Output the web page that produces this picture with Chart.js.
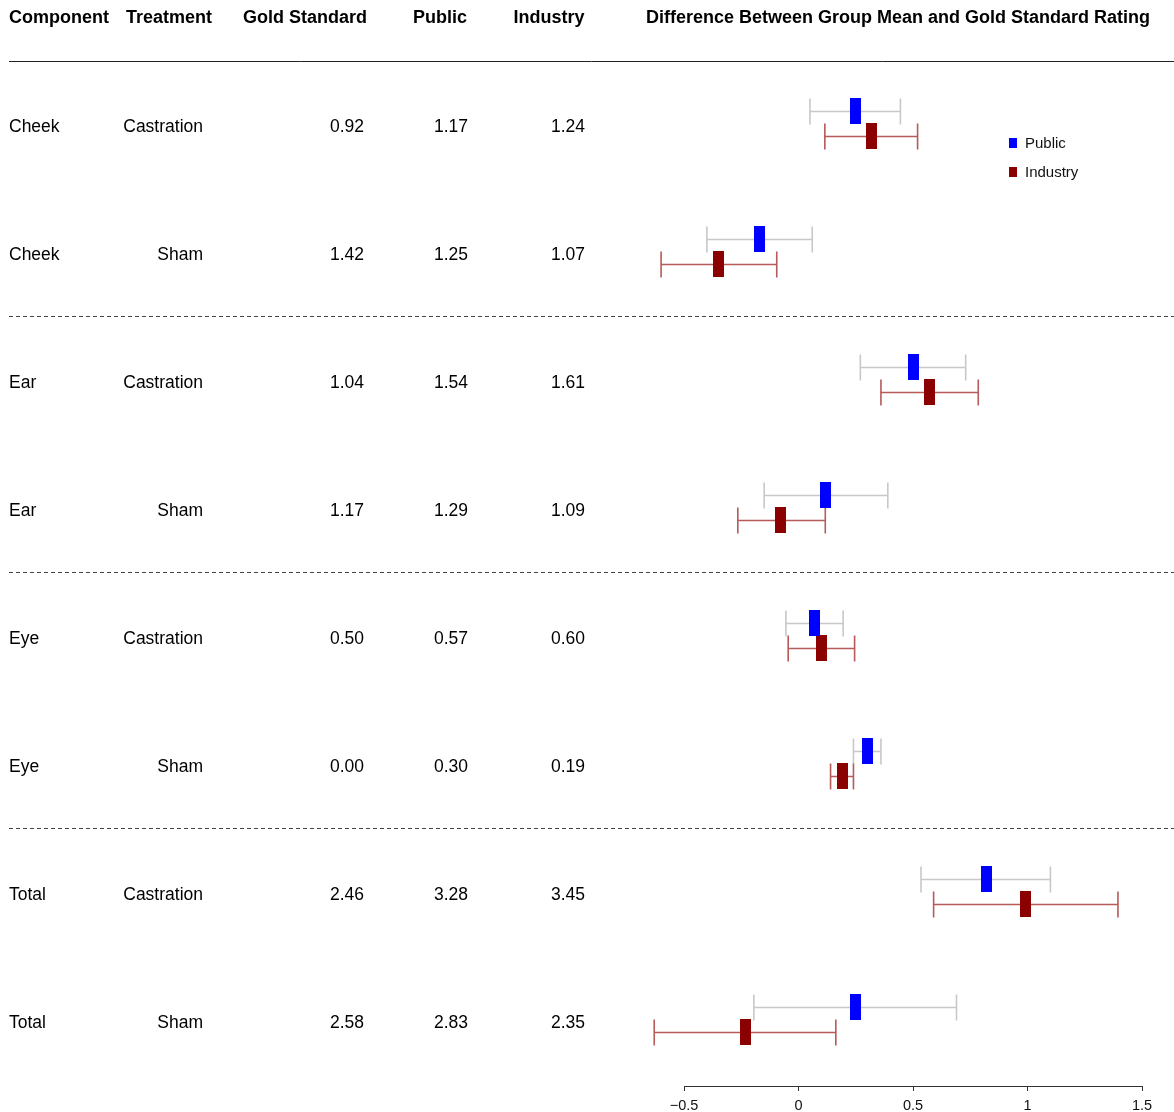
<!DOCTYPE html>
<html>
<head>
<meta charset="utf-8">
<title>Difference Between Group Mean and Gold Standard Rating</title>
<script src="https://cdn.jsdelivr.net/npm/chart.js@4.4.1/dist/chart.umd.min.js"></script>
<style>
  html, body { margin: 0; padding: 0; background: #ffffff; }
  #wrap { width: 1174px; height: 1112px; position: relative; }
</style>
</head>
<body>
<div id="wrap"><canvas id="forest" width="1174" height="1112"></canvas></div>
<script>
// ---- table content ----
const components   = ['Cheek', 'Cheek', 'Ear', 'Ear', 'Eye', 'Eye', 'Total', 'Total'];
const treatments   = ['Castration', 'Sham', 'Castration', 'Sham', 'Castration', 'Sham', 'Castration', 'Sham'];
const goldStandard = [0.92, 1.42, 1.04, 1.17, 0.50, 0.00, 2.46, 2.58];
const publicMean   = [1.17, 1.25, 1.54, 1.29, 0.57, 0.30, 3.28, 2.83];
const industryMean = [1.24, 1.07, 1.61, 1.09, 0.60, 0.19, 3.45, 2.35];

// ---- interval bounds for the difference (group mean - gold standard) ----
const publicLow    = [0.050, -0.400, 0.270, -0.150, -0.055, 0.240, 0.535, -0.195];
const publicHigh   = [0.445,  0.060, 0.730,  0.390,  0.195, 0.360, 1.100,  0.690];
const industryLow  = [0.115, -0.600, 0.360, -0.265, -0.045, 0.140, 0.590, -0.630];
const industryHigh = [0.520, -0.095, 0.785,  0.117,  0.245, 0.240, 1.395,  0.163];

// ---- axis ----
const xTicks = [-0.5, 0, 0.5, 1, 1.5];
const headers = ['Component', 'Treatment', 'Gold Standard', 'Public', 'Industry'];
const plotTitle = 'Difference Between Group Mean and Gold Standard Rating';
const seriesNames = ['Public', 'Industry'];

const publicDiff   = publicMean.map((v, i) => +(v - goldStandard[i]).toFixed(2));
const industryDiff = industryMean.map((v, i) => +(v - goldStandard[i]).toFixed(2));

const FONT = '"Liberation Sans", Arial, Helvetica, sans-serif';
const PUBLIC_COL = '#0000ff';
const INDUSTRY_COL = '#8b0000';
const PUBLIC_WHISKER = '#c8c8c8';
const INDUSTRY_WHISKER = '#b65a5a';
const PUBLIC_OFF = -0.121;   // row fraction above the row centre
const INDUSTRY_OFF = 0.082;  // row fraction below the row centre

function boxImage(color) {
  const c = document.createElement('canvas');
  c.width = 11; c.height = 26;
  const g = c.getContext('2d');
  g.fillStyle = color;
  g.fillRect(0, 0, 11, 26);
  return c;
}

// table columns and decorations drawn around the plot area
const tablePlugin = {
  id: 'tablePlugin',
  beforeDatasetsDraw(chart) {
    const ctx = chart.ctx;
    const xs = chart.scales.x, ys = chart.scales.y;
    ctx.save();
    // whiskers
    const drawWhisker = (lo, hi, yv, color) => {
      const y = Math.round(ys.getPixelForValue(yv)) + 0.5;
      const x0 = xs.getPixelForValue(lo), x1 = xs.getPixelForValue(hi);
      ctx.strokeStyle = color;
      ctx.lineWidth = 1.6;
      ctx.beginPath();
      ctx.moveTo(x0, y); ctx.lineTo(x1, y);
      ctx.moveTo(x0, y - 13); ctx.lineTo(x0, y + 13);
      ctx.moveTo(x1, y - 13); ctx.lineTo(x1, y + 13);
      ctx.stroke();
    };
    for (let i = 0; i < components.length; i++) {
      drawWhisker(publicLow[i], publicHigh[i], i + PUBLIC_OFF, PUBLIC_WHISKER);
      drawWhisker(industryLow[i], industryHigh[i], i + INDUSTRY_OFF, INDUSTRY_WHISKER);
    }
    ctx.restore();
  },
  afterDraw(chart) {
    const ctx = chart.ctx;
    const ys = chart.scales.y;
    const W = chart.width;
    ctx.save();
    // header row
    ctx.fillStyle = '#000';
    ctx.textBaseline = 'middle';
    ctx.font = 'bold 18px ' + FONT;
    const hy = 18;
    ctx.textAlign = 'left';   ctx.fillText(headers[0], 9, hy);
    ctx.textAlign = 'center'; ctx.fillText(headers[1], 169, hy);
    ctx.fillText(headers[2], 305, hy);
    ctx.fillText(headers[3], 440, hy);
    ctx.fillText(headers[4], 549, hy);
    ctx.fillText(plotTitle, 898, hy);

    // rule under the header
    ctx.strokeStyle = '#222';
    ctx.lineWidth = 1;
    const topY = Math.round(ys.getPixelForValue(-0.5)) - 0.5;
    ctx.beginPath(); ctx.moveTo(9, topY); ctx.lineTo(W, topY); ctx.stroke();

    // dashed separators between components
    ctx.setLineDash([4, 3]);
    ctx.strokeStyle = '#444';
    [1.5, 3.5, 5.5].forEach(v => {
      const y = Math.round(ys.getPixelForValue(v)) - 1.5;
      ctx.beginPath(); ctx.moveTo(9, y); ctx.lineTo(W, y); ctx.stroke();
    });
    ctx.setLineDash([]);

    // table body
    ctx.font = '17.5px ' + FONT;
    ctx.fillStyle = '#000';
    for (let i = 0; i < components.length; i++) {
      const y = ys.getPixelForValue(i) + 1.5;
      ctx.textAlign = 'left';  ctx.fillText(components[i], 9, y);
      ctx.textAlign = 'right'; ctx.fillText(treatments[i], 203, y);
      ctx.fillText(goldStandard[i].toFixed(2), 364, y);
      ctx.fillText(publicMean[i].toFixed(2), 468, y);
      ctx.fillText(industryMean[i].toFixed(2), 585, y);
    }

    // legend
    ctx.font = '15px ' + FONT;
    ctx.textAlign = 'left';
    [[PUBLIC_COL, 143], [INDUSTRY_COL, 172]].forEach((it, k) => {
      ctx.fillStyle = it[0];
      ctx.fillRect(1009, it[1] - 5, 8, 10);
      ctx.fillStyle = '#111';
      ctx.fillText(seriesNames[k], 1025, it[1] + 1);
    });
    ctx.restore();
  }
};

new Chart(document.getElementById('forest'), {
  type: 'scatter',
  data: {
    datasets: [
      {
        label: seriesNames[0],
        data: publicDiff.map((v, i) => ({ x: v, y: i + PUBLIC_OFF })),
        pointStyle: boxImage(PUBLIC_COL),
        pointRadius: 6
      },
      {
        label: seriesNames[1],
        data: industryDiff.map((v, i) => ({ x: v, y: i + INDUSTRY_OFF })),
        pointStyle: boxImage(INDUSTRY_COL),
        pointRadius: 6
      }
    ]
  },
  options: {
    responsive: false,
    animation: false,
    devicePixelRatio: 1,
    events: [],
    layout: { padding: { left: 684, right: 32, top: 62, bottom: 0 } },
    plugins: { legend: { display: false }, tooltip: { enabled: false } },
    scales: {
      x: {
        type: 'linear',
        min: -0.5, max: 1.5,
        afterBuildTicks(scale) { scale.ticks = xTicks.map(v => ({ value: v })); },
        afterFit(scale) { scale.height = 26; },
        border: { display: true, color: '#333', width: 1 },
        grid: { drawOnChartArea: false, drawTicks: true, tickLength: 5, color: '#333' },
        ticks: {
          padding: 6,
          maxRotation: 0,
          autoSkip: false,
          color: '#111',
          font: { family: FONT, size: 14.5 },
          callback: (v) => (v < 0 ? '\u2212' + Math.abs(v) : String(v))
        }
      },
      y: {
        type: 'linear',
        display: false,
        reverse: true,
        min: -0.5, max: 7.5
      }
    }
  },
  plugins: [tablePlugin]
});
</script>
</body>
</html>
